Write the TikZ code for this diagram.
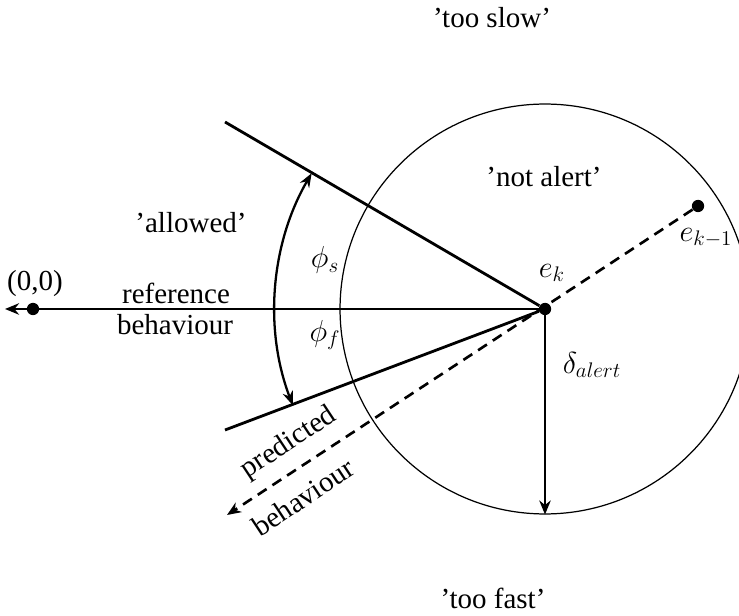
\documentclass[tikz,border=0pt]{standalone}
\usepackage{fontspec}
\setmainfont{Liberation Serif}
\usetikzlibrary{arrows.meta, positioning}

\begin{document}
\begin{tikzpicture}[
    x=0.02cm, y=0.02cm,
    font=\fontsize{16.5}{19}\selectfont,
    dot/.style={circle, fill=black, inner sep=0pt, minimum size=7pt},
    bound/.style={line width=1.6pt},
    tip/.style={-{Stealth[length=8pt, width=6.5pt]}},
    lbl/.style={inner sep=1pt}
]
\useasboundingbox (0,0) rectangle (739,615);

% points
\node[dot] (ek) at (545,306) {};
\node[dot] (ekold) at (698,409) {};
\node[dot] (origin) at (33,306) {};
\coordinate (reftip) at (5,306);
\coordinate (predtip) at (227,100);
\coordinate (slowend) at (225,493);
\coordinate (fastend) at (225,185);

% alert circle
\node[circle, draw, line width=0.7pt, minimum size=8.2cm, inner sep=0pt] (alert) at (ek) {};

% lines
\draw[bound, tip] (ek) -- (reftip);
\draw[bound] (ek) -- (slowend);
\draw[bound] (ek) -- (fastend);
\draw[line width=1.5pt, dash pattern=on 6pt off 4pt, tip] (ekold) -- (predtip);
\draw[bound, tip] (ek) -- (alert.south);

% angle range
\draw[line width=1.3pt, {Stealth[length=8pt, width=6pt]}-{Stealth[length=8pt, width=6pt]}]
    ([shift={(149.8:270)}]ek) arc[start angle=149.8, end angle=200.9, radius=5.4cm];

% labels
\node[lbl] (slow) at (492,597) {'too slow'};
\node[lbl] (fast) at (493,17) {'too fast'};
\node[lbl] (notalert) at (544,438) {'not alert'};
\node[lbl] (allowed) at (191,392) {'allowed'};
\node[lbl] (orig) at (35,331) {(0,0)};
\node[lbl] (ref1) at (176,322) {reference};
\node[lbl] (ref2) at (175,290) {behaviour};
\node[lbl] (phis) at (325,355) {$\phi_s$};
\node[lbl] (phif) at (325,280) {$\phi_f$};
\node[lbl] (eklbl) at (552,342) {$e_k$};
\node[lbl] (ekoldlbl) at (706,377) {$e_{k-1}$};
\node[lbl] (delta) at (592,250) {$\delta_{alert}$};
\node[lbl, rotate=33.5] (pred1) at (289,172) {predicted};
\node[lbl, rotate=33.5] (pred2) at (303,118) {behaviour};
\end{tikzpicture}
\end{document}
